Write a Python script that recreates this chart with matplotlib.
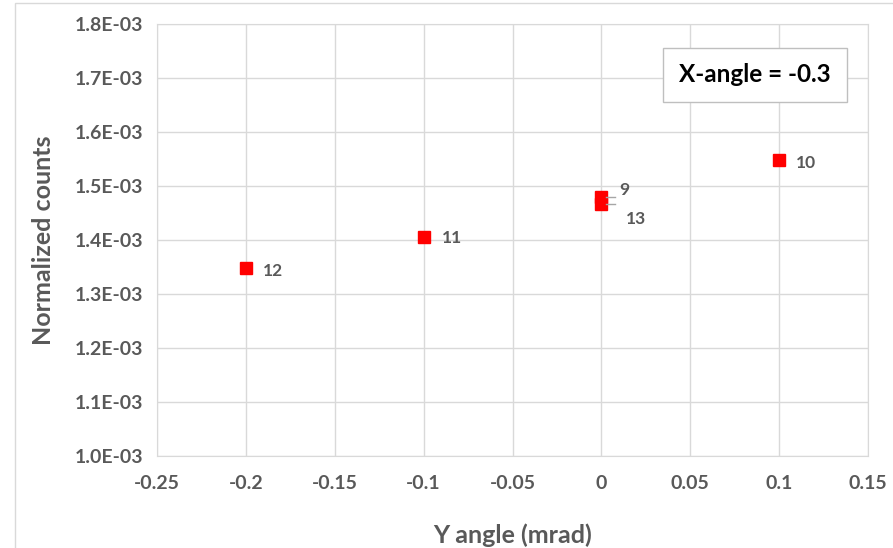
import matplotlib.pyplot as plt
from matplotlib.patches import Rectangle

plt.rcParams['font.family'] = ['Lato', 'DejaVu Sans']

# data
y_angle = [0.0, 0.1, -0.1, -0.2, 0.0]
counts = [1.480e-3, 1.548e-3, 1.406e-3, 1.348e-3, 1.467e-3]
runs = ['9', '10', '11', '12', '13']
x_ticks = [-0.25, -0.2, -0.15, -0.1, -0.05, 0, 0.05, 0.1, 0.15]
x_ticklabels = ['-0.25', '-0.2', '-0.15', '-0.1', '-0.05', '0', '0.05', '0.1', '0.15']
y_ticks = [1.0e-3, 1.1e-3, 1.2e-3, 1.3e-3, 1.4e-3, 1.5e-3, 1.6e-3, 1.7e-3, 1.8e-3]
y_ticklabels = ['1.0E-03', '1.1E-03', '1.2E-03', '1.3E-03', '1.4E-03',
                '1.5E-03', '1.6E-03', '1.7E-03', '1.8E-03']

W, H = 893, 548
fig = plt.figure(figsize=(W / 100, H / 100), dpi=100)
ax = fig.add_axes([157 / W, 1 - 456 / H, (868 - 157) / W, (456 - 24) / H])

grey = '#595959'
gridc = '#d9d9d9'

ax.plot(y_angle, counts, 's', color='red', markersize=8, zorder=3)

# label offsets in points (dx, dy)
offs = {'9': (13, 5), '10': (12, -2), '11': (13, -1), '12': (12, -2), '13': (18, -11)}
for x, y, r in zip(y_angle, counts, runs):
    dx, dy = offs[r]
    ax.annotate(r, (x, y), xytext=(dx, dy), textcoords='offset points',
                ha='left', va='center', fontsize=12.5, fontweight='bold', color=grey)

# small leader lines next to the overlapping points 9 and 13
for y in [counts[0], counts[4]]:
    ax.plot([0.0025, 0.0075], [y, y], color='#a6a6a6', lw=1, zorder=4)

ax.set_xlim(-0.25, 0.15)
ax.set_ylim(1.0e-3, 1.8e-3)
ax.set_xticks(x_ticks)
ax.set_xticklabels(x_ticklabels)
ax.set_yticks(y_ticks)
ax.set_yticklabels(y_ticklabels)
ax.tick_params(axis='y', length=0, labelsize=14, labelcolor=grey, pad=10)
ax.tick_params(axis='x', length=0, labelsize=14, labelcolor=grey, pad=14)
for lab in ax.get_xticklabels() + ax.get_yticklabels():
    lab.set_fontweight('bold')
ax.grid(True, color=gridc, lw=1)
ax.set_axisbelow(True)
for s in ax.spines.values():
    s.set_color(gridc)

ax.set_xlabel('Y angle (mrad)', fontsize=18, fontweight='bold', color=grey, labelpad=22)
ax.set_ylabel('Normalized counts', fontsize=18, fontweight='bold', color=grey, labelpad=14)

# text box
fig.text((658 + 852) / 2 / W, 1 - 75 / H, 'X-angle = -0.3', ha='center', va='center',
         fontsize=17.5, fontweight='bold', color='black',
         bbox=dict(boxstyle='square,pad=0.65', fc='white', ec='#bfbfbf', lw=1))

# outer chart border
fig.patches.append(Rectangle((15 / W, -0.1), 1.1, 1 - 3 / H + 0.1, transform=fig.transFigure,
                             fill=False, ec=gridc, lw=1))

fig.savefig('out.png', dpi=100)
